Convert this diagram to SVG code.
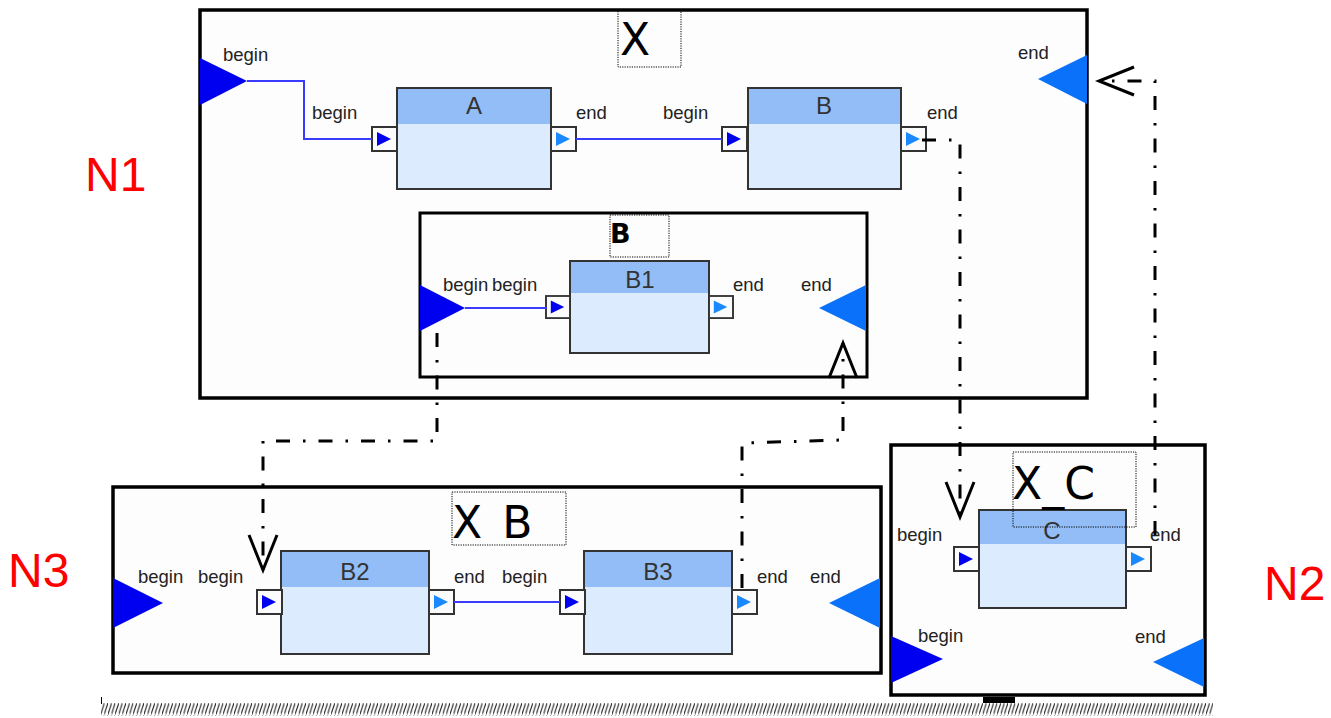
<svg xmlns="http://www.w3.org/2000/svg" xmlns:xlink="http://www.w3.org/1999/xlink" width="1331" height="718" viewBox="0 0 1331 718">
<style>
.frame{fill:#fdfdfd;stroke:#000;stroke-width:3.5}
.inner{fill:#fdfdfd;stroke:#000;stroke-width:3}
.title{fill:none;stroke:#000;stroke-width:1;stroke-dasharray:1.2 1.2}
.ttl{font-family:"DejaVu Sans","Liberation Sans",sans-serif;font-size:44px;fill:#000}
.lbl{font-family:"Liberation Sans",Arial,sans-serif;font-size:18.5px;fill:#222}
.bname{font-family:"Liberation Sans",Arial,sans-serif;font-size:24px;fill:#333;text-anchor:middle}
.body{fill:#dcebfd}
.head{fill:#92bdf7}
.outl{fill:none;stroke:#333;stroke-width:2}
.pin{fill:#0000f0}
.pout{fill:#0a72fa}
.wire{fill:none;stroke:#3b3bff;stroke-width:2}
.conn{fill:none;stroke:#000;stroke-width:3;stroke-dasharray:14 13 2.5 13}
.nlab{font-family:"Liberation Sans",Arial,sans-serif;font-size:48px;fill:#ff0000}
</style>
<defs>
<g id="portIn"><rect x="0" y="0" width="25" height="24" fill="#fbfbfb" stroke="#333" stroke-width="2"/><polygon points="5,5 19,12 5,19" fill="#0000ee"/></g>
<g id="portOut"><rect x="0" y="0" width="25" height="24" fill="#fbfbfb" stroke="#333" stroke-width="2"/><polygon points="5,5 19,12 5,19" fill="#1a88ff"/></g>
<marker id="openArrow" markerUnits="userSpaceOnUse" viewBox="-40 -20 50 40" markerWidth="50" markerHeight="40" refX="0" refY="0" orient="auto" overflow="visible">
<path d="M-35,-14 L0,0 L-35,14" fill="none" stroke="#000" stroke-width="3"/>
</marker>
<pattern id="hatch" patternUnits="userSpaceOnUse" width="3.6" height="13">
<path d="M-0.5,13.5 L4.1,-0.5" stroke="#222" stroke-width="1.1"/>
</pattern>
</defs>
<rect x="0" y="0" width="1331" height="718" fill="#fff"/>

<!-- Node X (N1) -->
<g id="X">
<rect class="frame" x="200" y="10" width="887" height="388"/>
<rect class="title" x="618" y="10" width="63" height="57"/>
<text class="ttl" x="620" y="55">X</text>
<polygon class="pin" points="200,58 247,81 200,105"/>
<text class="lbl" x="223" y="61">begin</text>
<polygon class="pout" points="1087,55 1038,79 1087,104"/>
<text class="lbl" x="1018" y="59">end</text>
</g>

<g id="A">
<rect class="body" x="397" y="88" width="154" height="101"/>
<rect class="head" x="397" y="88" width="154" height="36"/>
<rect class="outl" x="397" y="88" width="154" height="101"/>
<text class="bname" x="474" y="114">A</text>
<use xlink:href="#portIn" x="372" y="127"/>
<use xlink:href="#portOut" x="551" y="127"/>
<text class="lbl" x="312" y="119">begin</text>
<text class="lbl" x="576" y="119">end</text>
</g>

<g id="B">
<rect class="body" x="748" y="88" width="153" height="101"/>
<rect class="head" x="748" y="88" width="153" height="36"/>
<rect class="outl" x="748" y="88" width="153" height="101"/>
<text class="bname" x="824" y="114">B</text>
<use xlink:href="#portIn" x="722" y="127"/>
<use xlink:href="#portOut" x="901" y="127"/>
<text class="lbl" x="663" y="119">begin</text>
<text class="lbl" x="927" y="119">end</text>
</g>

<g id="B_inner">
<rect class="inner" x="420" y="213" width="447" height="164"/>
<rect class="title" x="610" y="215" width="59" height="42"/>
<text x="610" y="243" font-family="'DejaVu Sans','Liberation Sans',sans-serif" font-size="27" font-weight="bold" fill="#000">B</text>
<polygon class="pin" points="420,285 465,308 420,331"/>
<polygon class="pout" points="866,285 819,308 866,331"/>
<text class="lbl" x="443" y="291">begin</text>
<text class="lbl" x="492" y="291">begin</text>
<text class="lbl" x="733" y="291">end</text>
<text class="lbl" x="801" y="291">end</text>
</g>

<g id="B1">
<rect class="body" x="570" y="261" width="139" height="92"/>
<rect class="head" x="570" y="261" width="139" height="32"/>
<rect class="outl" x="570" y="261" width="139" height="92"/>
<text class="bname" x="640" y="288">B1</text>
<use xlink:href="#portIn" x="546" y="296" transform="translate(546 296) scale(0.96 0.92) translate(-546 -296)"/>
<use xlink:href="#portOut" x="709" y="296" transform="translate(709 296) scale(0.96 0.92) translate(-709 -296)"/>
</g>

<!-- Node X_B (N3) -->
<g id="X_B">
<rect class="frame" x="113" y="487" width="768" height="186"/>
<rect class="title" x="452" y="492" width="114" height="53"/>
<text class="ttl" x="452" y="538" word-spacing="6">X B</text>
<polygon class="pin" points="113,578 163,603 113,628"/>
<polygon class="pout" points="880,578 829,603 880,628"/>
<text class="lbl" x="138" y="583">begin</text>
<text class="lbl" x="810" y="583">end</text>
</g>

<g id="B2">
<rect class="body" x="281" y="551" width="148" height="103"/>
<rect class="head" x="281" y="551" width="148" height="36"/>
<rect class="outl" x="281" y="551" width="148" height="103"/>
<text class="bname" x="355" y="580">B2</text>
<use xlink:href="#portIn" x="257" y="590"/>
<use xlink:href="#portOut" x="429" y="590"/>
<text class="lbl" x="198" y="583">begin</text>
<text class="lbl" x="454" y="583">end</text>
</g>

<g id="B3">
<rect class="body" x="584" y="551" width="148" height="103"/>
<rect class="head" x="584" y="551" width="148" height="36"/>
<rect class="outl" x="584" y="551" width="148" height="103"/>
<text class="bname" x="658" y="580">B3</text>
<use xlink:href="#portIn" x="560" y="590"/>
<use xlink:href="#portOut" x="732" y="590"/>
<text class="lbl" x="502" y="583">begin</text>
<text class="lbl" x="757" y="583">end</text>
</g>

<!-- Node X_C (N2) -->
<g id="X_C">
<rect class="frame" x="891" y="445" width="314" height="250"/>
<polygon class="pin" points="891,636 943,659 891,683"/>
<polygon class="pout" points="1204,638 1153,662 1204,687"/>
<text class="lbl" x="918" y="642">begin</text>
<text class="lbl" x="1135" y="643">end</text>
<rect x="983" y="697" width="32" height="6" fill="#000"/>
</g>

<g id="C">
<rect class="body" x="979" y="510" width="147" height="98"/>
<rect class="head" x="979" y="510" width="147" height="34"/>
<rect class="outl" x="979" y="510" width="147" height="98"/>
<text class="bname" x="1052" y="539">C</text>
<use xlink:href="#portIn" x="954" y="547"/>
<use xlink:href="#portOut" x="1126" y="547"/>
<text class="lbl" x="897" y="541">begin</text>
<text class="lbl" x="1150" y="541">end</text>
</g>

<g id="X_C_title">
<rect class="title" x="1013" y="452" width="123" height="75"/>
<text class="ttl" x="1012" y="499">X_C</text>
</g>

<!-- ground -->
<g id="ground">
<rect x="101" y="703" width="1112" height="13" fill="url(#hatch)"/>
<line x1="101.5" y1="697" x2="101.5" y2="704" stroke="#000" stroke-width="1"/>
</g>

<!-- connectors -->
<g id="connectors">
<path class="wire" d="M247,81 H304 V139 H372"/>
<path class="wire" d="M576,139 H722"/>
<path class="wire" d="M465,308 H547"/>
<path class="wire" d="M454,602 H560"/>
<path class="conn" d="M922,140 H960 V517" marker-end="url(#openArrow)"/>
<path class="conn" d="M1155,535 V81 H1099" marker-end="url(#openArrow)"/>
<path class="conn" d="M437,333 V441 H263 V570" marker-end="url(#openArrow)"/>
<path class="conn" d="M742,588 V443 L843,440 V343" marker-end="url(#openArrow)"/>
</g>

<!-- network labels -->
<g id="N1"><text class="nlab" x="85" y="191">N1</text></g>
<g id="N2"><text class="nlab" x="1264" y="600">N2</text></g>
<g id="N3"><text class="nlab" x="8" y="587">N3</text></g>
</svg>
